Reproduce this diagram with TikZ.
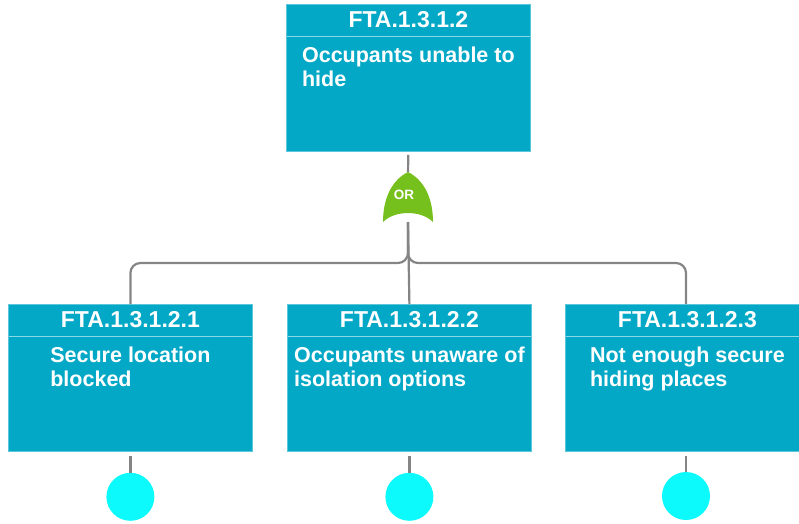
\documentclass[tikz,border=0pt]{standalone}
\usepackage{fontspec}
\setmainfont{Liberation Sans}
\usetikzlibrary{calc}
\definecolor{boxfill}{HTML}{02A8C6}
\definecolor{boxedge}{HTML}{5CC6DA}
\definecolor{hdrline}{HTML}{8AD8E6}
\definecolor{wire}{HTML}{858585}
\definecolor{gatefill}{HTML}{76C01E}
\definecolor{basicfill}{HTML}{0CFAFB}
\begin{document}
\begin{tikzpicture}[x=1pt,y=-1pt,
  faultbox/.style={rectangle, draw=boxedge, line width=0.8pt, fill=boxfill,
    minimum width=244pt, minimum height=147pt, anchor=north west, inner sep=0pt},
  hdr/.style={draw=hdrline, line width=1pt},
  boxtitle/.style={anchor=base, inner sep=0pt, text=white,
    font=\bfseries\fontsize{23}{26}\selectfont},
  boxbody/.style={anchor=north, inner sep=0pt, text=white, align=left,
    font=\bfseries\fontsize{21.5}{23.5}\selectfont},
  conn/.style={draw=wire, line width=2.2pt},
  basic/.style={circle, fill=basicfill, minimum size=48pt, inner sep=0pt},
]
\useasboundingbox (0,0) rectangle (799,523);
\clip (0,0) rectangle (799,523);

% fault event boxes
\node[faultbox] (t)  at (286,4)   {};
\node[faultbox] (b1) at (8,304)   {};
\node[faultbox] (b2) at (287,304) {};
\node[faultbox] (b3) at (565,304) {};

% header separators
\foreach \b in {t,b1,b2,b3}
  \draw[hdr] ($(\b.north west)+(0.5,32)$) -- ($(\b.north east)+(-0.5,32)$);

% titles and descriptions
\node[boxtitle] (tT)  at ($(t.north)+(0,23)$)  {FTA.1.3.1.2};
\node[boxbody]  (tB)  at ($(t.north)+(0,43)$)  {Occupants unable to\\hide};
\node[boxtitle] (b1T) at ($(b1.north)+(0,23)$) {FTA.1.3.1.2.1};
\node[boxbody]  (b1B) at ($(b1.north)+(0,43)$) {Secure location\\blocked};
\node[boxtitle] (b2T) at ($(b2.north)+(0,23)$) {FTA.1.3.1.2.2};
\node[boxbody]  (b2B) at ($(b2.north)+(0,43)$) {Occupants unaware of\\isolation options};
\node[boxtitle] (b3T) at ($(b3.north)+(0,23)$) {FTA.1.3.1.2.3};
\node[boxbody]  (b3B) at ($(b3.north)+(0,43)$) {Not enough secure\\hiding places};

% OR gate
\coordinate (gtop) at (408,172);
\coordinate (gbot) at (408,222);
\coordinate (bus)  at (408,263);
\fill[gatefill] (gtop) .. controls (424,180) and (433,198) .. (433,222)
  .. controls (421,210) and (395,210) .. (383,222)
  .. controls (383,198) and (392,180) .. (gtop) -- cycle;
\node[text=white, inner sep=0pt, font=\bfseries\fontsize{13.5}{15}\selectfont] (orl) at (404,194.5) {OR};

% basic events, centred under their boxes
\node[basic] (c1) at ($(b1.south)+(0,45)$) {};
\node[basic] (c2) at ($(b2.south)+(0,45)$) {};
\node[basic] (c3) at (686,496) {};

% connectors
\draw[conn, shorten <=3pt] (t.south) -- (gtop);
\draw[conn] (gbot) -- (b2.north);
\draw[conn, rounded corners=10pt] (gbot) |- ($(b1.north |- bus)$) -- (b1.north);
\draw[conn, rounded corners=10pt] (gbot) |- ($(c3 |- bus)$) -- (c3 |- b3.north);
\draw[conn, shorten <=4pt] (b1.south) -- (c1.north);
\draw[conn, shorten <=4pt] (b2.south) -- (c2.north);
\draw[conn, shorten <=4pt] (c3 |- b3.south) -- (c3.north);
\end{tikzpicture}
\end{document}
